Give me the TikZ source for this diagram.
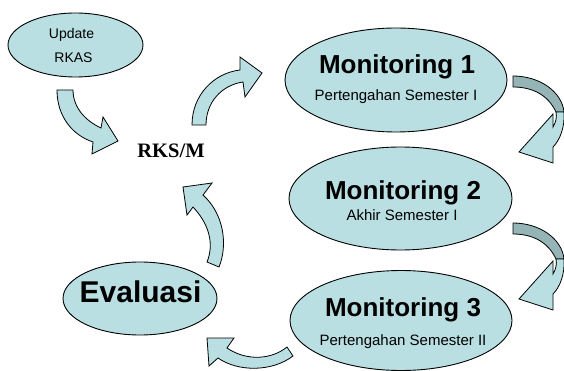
\documentclass[tikz,border=0pt]{standalone}
\usepackage{fontspec}
\setmainfont{Liberation Serif}
\setsansfont{Liberation Sans}
\usetikzlibrary{shapes.geometric}
\definecolor{lightfill}{RGB}{185,223,226}
\definecolor{darkfill}{RGB}{148,180,182}
\tikzset{
  oval/.style={ellipse, draw=black, line width=0.9pt, fill=lightfill, inner sep=0pt},
  blockarrow/.style={draw=black, line width=0.8pt, fill=lightfill, line join=miter},
  backband/.style={draw=black, line width=0.8pt, fill=darkfill, line join=miter},
  bigtitle/.style={font=\sffamily\bfseries\fontsize{26}{30}\selectfont, anchor=base, inner sep=0pt},
  hugetitle/.style={font=\sffamily\bfseries\fontsize{30}{34}\selectfont, anchor=base, inner sep=0pt},
  subtitle/.style={font=\sffamily\fontsize{15}{18}\selectfont, anchor=base, inner sep=0pt},
  smalltext/.style={font=\sffamily\fontsize{14}{17}\selectfont, anchor=base, inner sep=0pt},
  centertext/.style={font=\rmfamily\bfseries\fontsize{20.5}{24}\selectfont, anchor=base, inner sep=0pt},
}
\begin{document}
\begin{tikzpicture}[x=1pt,y=-1pt]
\useasboundingbox (0,0) rectangle (564,371);

% ovals
\node[oval, minimum width=135pt, minimum height=64pt] (upd) at (75.5,45) {};
\node[oval, minimum width=222pt, minimum height=104pt] (mon1) at (396,80) {};
\node[oval, minimum width=223pt, minimum height=103pt] (mon2) at (400.5,198.5) {};
\node[oval, minimum width=222pt, minimum height=100pt] (mon3) at (401,320.5) {};
\node[oval, minimum width=154pt, minimum height=73pt] (eval) at (140,298.5) {};

% texts
\node[smalltext] (updA) at (71.5,39) {Update};
\node[smalltext] (updB) at (73.5,63) {RKAS};
\node[centertext] (rks) at (171,158) {RKS/M};
\node[bigtitle] (m1t) at (397,74) {Monitoring 1};
\node[subtitle] (m1s) at (396,101) {Pertengahan Semester I};
\node[bigtitle] (m2t) at (403,200) {Monitoring 2};
\node[subtitle] (m2s) at (402,221) {Akhir Semester I};
\node[bigtitle] (m3t) at (403,316) {Monitoring 3};
\node[subtitle] (m3s) at (403,345) {Pertengahan Semester II};
\node[hugetitle] (evt) at (140.5,302) {Evaluasi};

% arrow Update -> RKS/M
\draw[blockarrow] (57,90) .. controls (57,116) and (72,135) .. (93,142)
  -- (92,154) -- (118,141) -- (103,117) -- (101,128)
  .. controls (86,121) and (73,108) .. (73,90) -- cycle;

% arrow RKS/M -> Monitoring 1
\draw[blockarrow] (192,125) .. controls (192,95) and (214,73) .. (240,70)
  -- (240,57) -- (262,73) -- (245,97) -- (243,82)
  .. controls (222,85) and (206,102) .. (206,125) -- cycle;

% arrow Monitoring 1 -> Monitoring 2
\draw[backband] (513,76) .. controls (540,76) and (562,92) .. (564,112)
  -- (556,112) .. controls (549,97) and (535,87) .. (513,87) -- cycle;
\draw[blockarrow] (556,112) -- (564,112) .. controls (565,127) and (560,140) .. (553,147)
  -- (553,163) -- (519,152) -- (553,114) -- (553,127)
  .. controls (556,122) and (557,117) .. (556,112) -- cycle;

% arrow Monitoring 2 -> Monitoring 3
\begin{scope}[shift={(0,147)}]
\draw[backband] (513,76) .. controls (540,76) and (562,92) .. (564,112)
  -- (556,112) .. controls (549,97) and (535,87) .. (513,87) -- cycle;
\draw[blockarrow] (556,112) -- (564,112) .. controls (565,127) and (560,140) .. (553,147)
  -- (553,163) -- (519,152) -- (553,114) -- (553,127)
  .. controls (556,122) and (557,117) .. (556,112) -- cycle;
\end{scope}

% arrow Monitoring 3 -> Evaluasi
\draw[blockarrow] (293,356) .. controls (272,372) and (238,372) .. (218,358)
  -- (209,366) -- (207,338) -- (234,338) -- (227,348)
  .. controls (246,361) and (271,360) .. (287,347) -- cycle;

% arrow Evaluasi -> RKS/M
\draw[blockarrow] (219,267) .. controls (228,245) and (224,214) .. (203,195)
  -- (212,183) -- (183,187) -- (187,215) -- (193,207)
  .. controls (210,225) and (214,245) .. (207,262) -- cycle;
\end{tikzpicture}
\end{document}
